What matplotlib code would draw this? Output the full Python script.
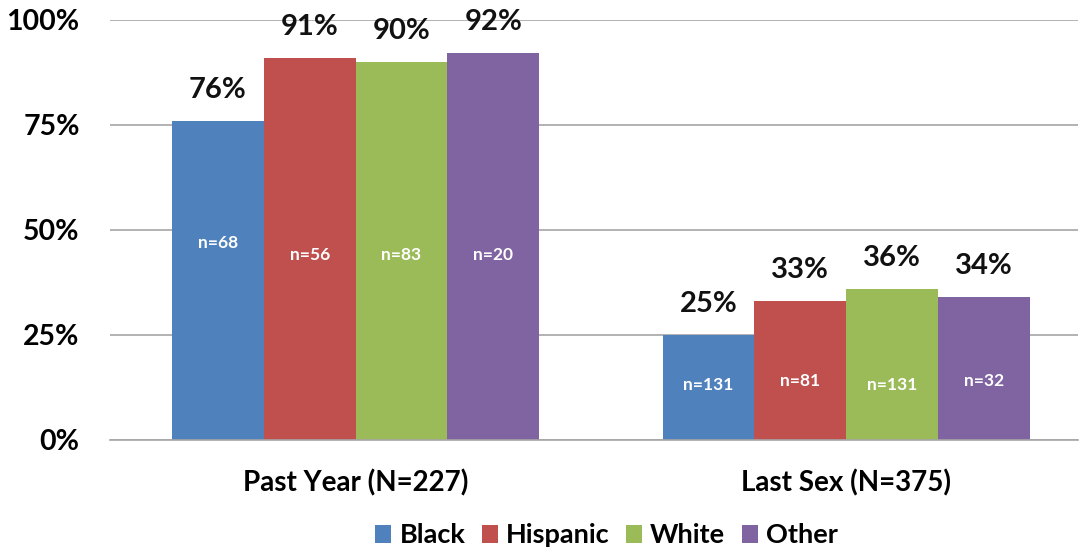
import numpy as np
import matplotlib.pyplot as plt
from matplotlib.ticker import FuncFormatter

plt.rcParams['font.family'] = ['Lato', 'DejaVu Sans']
plt.rcParams['font.weight'] = 'bold'

# Datos
categorias = ["Past Year (N=227)", "Last Sex (N=375)"]
grupos = ["Black", "Hispanic", "White", "Other"]
valores = {
    "Black": [76, 25],
    "Hispanic": [91, 33],
    "White": [90, 36],
    "Other": [92, 34],
}
n_valores = {
    "Black": ["n=68", "n=131"],
    "Hispanic": ["n=56", "n=81"],
    "White": ["n=83", "n=131"],
    "Other": ["n=20", "n=32"],
}
colores = ["#4f81bd", "#c0504d", "#9bbb59", "#8064a2"]

fig = plt.figure(figsize=(10.81, 5.52), dpi=100)
ax = fig.add_axes([0.102, 0.203, 0.895, 0.761])

x = np.arange(len(categorias))
ancho = 0.187
# altura de las etiquetas n= dentro de las barras
n_y = [[47, 13], [44, 14], [44, 13], [44, 14]]

for i, g in enumerate(grupos):
    pos = x + (i - 1.5) * ancho
    ax.bar(pos, valores[g], width=ancho, color=colores[i], label=g, zorder=2)
    for j in range(len(categorias)):
        ax.text(pos[j], valores[g][j] + 4.3, f"{valores[g][j]}%", ha='center', va='bottom',
                fontsize=21, fontweight='bold', color='#111111')
        ax.text(pos[j], n_y[i][j], n_valores[g][j], ha='center', va='center',
                fontsize=12.5, fontweight='bold', color='white')

ax.set_ylim(0, 100)
ax.set_xlim(-0.5, 1.472)
ax.set_yticks([0, 25, 50, 75, 100])
ax.yaxis.set_major_formatter(FuncFormatter(lambda v, p: f"{int(v)}%"))
ax.set_xticks(x)
ax.set_xticklabels(categorias)
ax.tick_params(axis='y', length=0, labelsize=20.5, pad=22)
ax.tick_params(axis='x', length=0, labelsize=20, pad=21)
ax.grid(axis='y', color='#a6a6a6', linewidth=1.2, zorder=0)
for s in ['top', 'right', 'left']:
    ax.spines[s].set_visible(False)
ax.spines['bottom'].set_color('#a6a6a6')
ax.spines['bottom'].set_linewidth(1.2)

fig.legend(loc='lower center', bbox_to_anchor=(0.561, -0.036), ncol=4, frameon=False,
           fontsize=19.5, handlelength=0.6, handleheight=0.6, handletextpad=0.3,
           columnspacing=0.6)

plt.savefig("out.png", dpi=100)
